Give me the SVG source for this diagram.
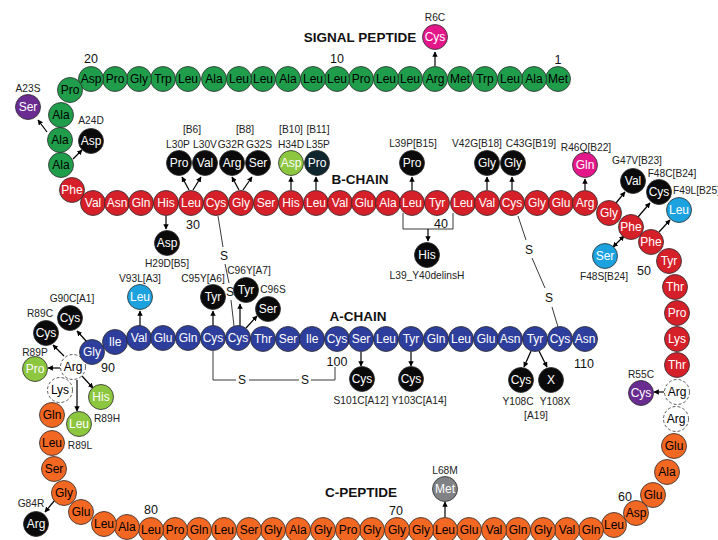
<svg xmlns="http://www.w3.org/2000/svg" width="718" height="540" viewBox="0 0 718 540">
<defs>
<marker id="ah" viewBox="0 0 10 10" refX="9" refY="5" markerWidth="4.5" markerHeight="4.5" orient="auto-start-reverse"><path d="M0,0 L10,5 L0,10 z" fill="#000"/></marker>
</defs>
<style>
circle{stroke:#2b2b2b;stroke-width:0.8}
text{font-family:"Liberation Sans",Arial,sans-serif}
.n text{font-size:12px;text-anchor:middle}
.sp circle{fill:#1f9d4b}.sp text{fill:#000}
.bc circle{fill:#d5202a}.bc text{fill:#fff}
.ac circle{fill:#2e3e9c}.ac text{fill:#fff}
.cp circle{fill:#f26722}.cp text{fill:#000}
.ds circle{fill:#fff;stroke:#333;stroke-dasharray:3 2}.ds text{fill:#000}
.mk circle{fill:#0a0a0a}.mk text{fill:#fff}
.dt circle{fill:#10262f}.dt text{fill:#fff}
.pk circle{fill:#e4178a}.pk text{fill:#fff}
.pu circle{fill:#6a2c91}.pu text{fill:#fff}
.lg circle{fill:#8dc63f}.lg text{fill:#fff}
.lb circle{fill:#1ca3df}.lb text{fill:#fff}
.gy circle{fill:#808285}.gy text{fill:#fff}
.n text.lbl{font-size:10.2px;text-anchor:middle;fill:#222}
.n text.lst{text-anchor:start}
.num{font-size:12.5px;text-anchor:middle;fill:#111}
.title{font-size:13.5px;font-weight:bold;text-anchor:middle;fill:#111}
.arr{stroke:#000;stroke-width:1.2;fill:none;marker-end:url(#ah)}
.arr2{stroke:#000;stroke-width:1.2;fill:none;marker-end:url(#ah);marker-start:url(#ah)}
.bond{stroke:#222;stroke-width:0.9;fill:none}
.s{font-size:12px;text-anchor:middle;fill:#111}
</style>

<g id="titles">
<text class="title" x="360" y="42">SIGNAL PEPTIDE</text>
<text class="title" x="360" y="184">B-CHAIN</text>
<text class="title" x="358" y="321">A-CHAIN</text>
<text class="title" x="361" y="497">C-PEPTIDE</text>
</g>

<g id="numbers">
<text class="num" x="558" y="64">1</text>
<text class="num" x="337" y="63">10</text>
<text class="num" x="91" y="63">20</text>
<text class="num" x="193" y="229">30</text>
<text class="num" x="441" y="228">40</text>
<text class="num" x="644" y="275">50</text>
<text class="num" x="625" y="501">60</text>
<text class="num" x="396" y="515">70</text>
<text class="num" x="151" y="514">80</text>
<text class="num" x="108" y="372">90</text>
<text class="num" x="337" y="366">100</text>
<text class="num" x="584" y="368">110</text>
</g>

<g id="connectors">
<line class="bond" x1="218" y1="216" x2="223" y2="247"/>
<line class="bond" x1="225" y1="264" x2="229" y2="283"/>
<line class="bond" x1="231" y1="300" x2="234" y2="326"/>
<text class="s" x="224" y="260">S</text>
<text class="s" x="230" y="296">S</text>
<line class="bond" x1="518" y1="216" x2="526" y2="240"/>
<line class="bond" x1="532" y1="258" x2="545" y2="288"/>
<line class="bond" x1="552" y1="307" x2="558" y2="327"/>
<text class="s" x="529" y="254">S</text>
<text class="s" x="549" y="302">S</text>
<polyline class="bond" points="213,351 213,380 236,380"/>
<line class="bond" x1="249" y1="380" x2="299" y2="380"/>
<polyline class="bond" points="311,380 335,380 335,367"/>
<text class="s" x="242" y="384">S</text>
<text class="s" x="305" y="384">S</text>
<polyline class="bond" points="403,213 403,229 453,229 453,213"/>
<line class="arr" x1="428" y1="229" x2="428" y2="241"/>
<line class="arr" x1="435" y1="66" x2="435" y2="52"/>
<line class="arr" x1="47" y1="132" x2="38" y2="120"/>
<line class="arr" x1="73" y1="159" x2="82" y2="150"/>
<line class="arr" x1="189" y1="190" x2="182" y2="177"/>
<line class="arr" x1="193" y1="190" x2="201" y2="177"/>
<line class="arr" x1="239" y1="190" x2="232" y2="177"/>
<line class="arr" x1="243" y1="190" x2="252" y2="177"/>
<line class="arr" x1="291" y1="190" x2="291" y2="177"/>
<line class="arr" x1="316" y1="190" x2="316" y2="177"/>
<line class="arr" x1="412" y1="190" x2="412" y2="177"/>
<line class="arr" x1="487" y1="190" x2="487" y2="177"/>
<line class="arr" x1="512" y1="190" x2="512" y2="177"/>
<line class="arr" x1="585" y1="190" x2="585" y2="179"/>
<line class="arr" x1="616" y1="203" x2="625" y2="192"/>
<line class="arr" x1="638" y1="217" x2="650" y2="203"/>
<line class="arr" x1="659" y1="232" x2="670" y2="220"/>
<line class="arr2" x1="624" y1="236" x2="613" y2="247"/>
<line class="arr" x1="166" y1="216" x2="166" y2="229"/>
<line class="arr" x1="140" y1="326" x2="140" y2="311"/>
<line class="arr" x1="213" y1="326" x2="213" y2="311"/>
<line class="arr" x1="240" y1="326" x2="240" y2="304"/>
<line class="arr" x1="246" y1="328" x2="257" y2="316"/>
<line class="arr" x1="87" y1="342" x2="77" y2="331"/>
<line class="arr" x1="64" y1="356" x2="53" y2="345"/>
<line class="arr" x1="60" y1="368" x2="48" y2="368"/>
<line class="arr" x1="82" y1="376" x2="93" y2="388"/>
<line class="arr" x1="77" y1="380" x2="77" y2="411"/>
<line class="arr" x1="55" y1="500" x2="45" y2="512"/>
<line class="arr" x1="664" y1="392" x2="654" y2="392"/>
<line class="arr" x1="445" y1="517" x2="445" y2="502"/>
<line class="arr" x1="361" y1="352" x2="361" y2="366"/>
<line class="arr" x1="411" y1="352" x2="411" y2="366"/>
<line class="arr" x1="531" y1="351" x2="524" y2="367"/>
<line class="arr" x1="539" y1="351" x2="547" y2="367"/>
</g>

<g id="signal-peptide" class="n sp">
<g id="r1"><circle cx="558" cy="79" r="12.5"/><text x="558" y="83.2">Met</text></g>
<g id="r2"><circle cx="534" cy="79" r="12.5"/><text x="534" y="83.2">Ala</text></g>
<g id="r3"><circle cx="510" cy="79" r="12.5"/><text x="510" y="83.2">Leu</text></g>
<g id="r4"><circle cx="485" cy="79" r="12.5"/><text x="485" y="83.2">Trp</text></g>
<g id="r5"><circle cx="460" cy="79" r="12.5"/><text x="460" y="83.2">Met</text></g>
<g id="r6"><circle cx="435" cy="79" r="12.5"/><text x="435" y="83.2">Arg</text></g>
<g id="r7"><circle cx="410" cy="79" r="12.5"/><text x="410" y="83.2">Leu</text></g>
<g id="r8"><circle cx="386" cy="79" r="12.5"/><text x="386" y="83.2">Leu</text></g>
<g id="r9"><circle cx="361" cy="79" r="12.5"/><text x="361" y="83.2">Pro</text></g>
<g id="r10"><circle cx="337" cy="79" r="12.5"/><text x="337" y="83.2">Leu</text></g>
<g id="r11"><circle cx="313" cy="79" r="12.5"/><text x="313" y="83.2">Leu</text></g>
<g id="r12"><circle cx="288" cy="79" r="12.5"/><text x="288" y="83.2">Ala</text></g>
<g id="r13"><circle cx="263" cy="79" r="12.5"/><text x="263" y="83.2">Leu</text></g>
<g id="r14"><circle cx="239" cy="79" r="12.5"/><text x="239" y="83.2">Leu</text></g>
<g id="r15"><circle cx="214" cy="79" r="12.5"/><text x="214" y="83.2">Ala</text></g>
<g id="r16"><circle cx="188" cy="79" r="12.5"/><text x="188" y="83.2">Leu</text></g>
<g id="r17"><circle cx="163" cy="79" r="12.5"/><text x="163" y="83.2">Trp</text></g>
<g id="r18"><circle cx="139" cy="79" r="12.5"/><text x="139" y="83.2">Gly</text></g>
<g id="r19"><circle cx="115" cy="79" r="12.5"/><text x="115" y="83.2">Pro</text></g>
<g id="r20"><circle cx="91" cy="79" r="12.5"/><text x="91" y="83.2">Asp</text></g>
<g id="r21"><circle cx="70" cy="90" r="12.5"/><text x="70" y="94.2">Pro</text></g>
<g id="r22"><circle cx="61" cy="115" r="12.5"/><text x="61" y="119.2">Ala</text></g>
<g id="r23"><circle cx="60" cy="140" r="12.5"/><text x="60" y="144.2">Ala</text></g>
<g id="r24"><circle cx="61" cy="165" r="12.5"/><text x="61" y="169.2">Ala</text></g>
</g>

<g id="b-chain" class="n bc">
<g id="r25"><circle cx="72" cy="190" r="12.5"/><text x="72" y="194.2">Phe</text></g>
<g id="r26"><circle cx="93" cy="203" r="12.5"/><text x="93" y="207.2">Val</text></g>
<g id="r27"><circle cx="117" cy="203" r="12.5"/><text x="117" y="207.2">Asn</text></g>
<g id="r28"><circle cx="141" cy="203" r="12.5"/><text x="141" y="207.2">Gln</text></g>
<g id="r29"><circle cx="166" cy="203" r="12.5"/><text x="166" y="207.2">His</text></g>
<g id="r30"><circle cx="191" cy="203" r="12.5"/><text x="191" y="207.2">Leu</text></g>
<g id="r31"><circle cx="216" cy="203" r="12.5"/><text x="216" y="207.2">Cys</text></g>
<g id="r32"><circle cx="241" cy="203" r="12.5"/><text x="241" y="207.2">Gly</text></g>
<g id="r33"><circle cx="266" cy="203" r="12.5"/><text x="266" y="207.2">Ser</text></g>
<g id="r34"><circle cx="291" cy="203" r="12.5"/><text x="291" y="207.2">His</text></g>
<g id="r35"><circle cx="316" cy="203" r="12.5"/><text x="316" y="207.2">Leu</text></g>
<g id="r36"><circle cx="340" cy="203" r="12.5"/><text x="340" y="207.2">Val</text></g>
<g id="r37"><circle cx="364" cy="203" r="12.5"/><text x="364" y="207.2">Glu</text></g>
<g id="r38"><circle cx="388" cy="203" r="12.5"/><text x="388" y="207.2">Ala</text></g>
<g id="r39"><circle cx="412" cy="203" r="12.5"/><text x="412" y="207.2">Leu</text></g>
<g id="r40"><circle cx="437" cy="203" r="12.5"/><text x="437" y="207.2">Tyr</text></g>
<g id="r41"><circle cx="463" cy="203" r="12.5"/><text x="463" y="207.2">Leu</text></g>
<g id="r42"><circle cx="487" cy="203" r="12.5"/><text x="487" y="207.2">Val</text></g>
<g id="r43"><circle cx="512" cy="203" r="12.5"/><text x="512" y="207.2">Cys</text></g>
<g id="r44"><circle cx="537" cy="203" r="12.5"/><text x="537" y="207.2">Gly</text></g>
<g id="r45"><circle cx="561" cy="203" r="12.5"/><text x="561" y="207.2">Glu</text></g>
<g id="r46"><circle cx="585" cy="203" r="12.5"/><text x="585" y="207.2">Arg</text></g>
<g id="r47"><circle cx="609" cy="213" r="12.5"/><text x="609" y="217.2">Gly</text></g>
<g id="r48"><circle cx="631" cy="227" r="12.5"/><text x="631" y="231.2">Phe</text></g>
<g id="r49"><circle cx="651" cy="242" r="12.5"/><text x="651" y="246.2">Phe</text></g>
<g id="r50"><circle cx="669" cy="261" r="12.5"/><text x="669" y="265.2">Tyr</text></g>
<g id="r51"><circle cx="675" cy="287" r="12.5"/><text x="675" y="291.2">Thr</text></g>
<g id="r52"><circle cx="677" cy="313" r="12.5"/><text x="677" y="317.2">Pro</text></g>
<g id="r53"><circle cx="677" cy="339" r="12.5"/><text x="677" y="343.2">Lys</text></g>
<g id="r54"><circle cx="677" cy="365" r="12.5"/><text x="677" y="369.2">Thr</text></g>
</g>

<g id="c-peptide" class="n cp">
<g id="r55" class="ds"><circle cx="677" cy="392" r="12.5"/><text x="677" y="396.2">Arg</text></g>
<g id="r56" class="ds"><circle cx="676" cy="419" r="12.5"/><text x="676" y="423.2">Arg</text></g>
<g id="r57"><circle cx="674" cy="446" r="12.5"/><text x="674" y="450.2">Glu</text></g>
<g id="r58"><circle cx="667" cy="472" r="12.5"/><text x="667" y="476.2">Ala</text></g>
<g id="r59"><circle cx="653" cy="495" r="12.5"/><text x="653" y="499.2">Glu</text></g>
<g id="r60"><circle cx="636" cy="513" r="12.5"/><text x="636" y="517.2">Asp</text></g>
<g id="r61"><circle cx="614" cy="525" r="12.5"/><text x="614" y="529.2">Leu</text></g>
<g id="r62"><circle cx="591" cy="530" r="12.5"/><text x="591" y="534.2">Gln</text></g>
<g id="r63"><circle cx="567" cy="530" r="12.5"/><text x="567" y="534.2">Val</text></g>
<g id="r64"><circle cx="543" cy="530" r="12.5"/><text x="543" y="534.2">Gly</text></g>
<g id="r65"><circle cx="518" cy="530" r="12.5"/><text x="518" y="534.2">Gln</text></g>
<g id="r66"><circle cx="494" cy="530" r="12.5"/><text x="494" y="534.2">Val</text></g>
<g id="r67"><circle cx="469" cy="530" r="12.5"/><text x="469" y="534.2">Glu</text></g>
<g id="r68"><circle cx="445" cy="530" r="12.5"/><text x="445" y="534.2">Leu</text></g>
<g id="r69"><circle cx="421" cy="530" r="12.5"/><text x="421" y="534.2">Gly</text></g>
<g id="r70"><circle cx="397" cy="530" r="12.5"/><text x="397" y="534.2">Gly</text></g>
<g id="r71"><circle cx="372" cy="530" r="12.5"/><text x="372" y="534.2">Gly</text></g>
<g id="r72"><circle cx="348" cy="530" r="12.5"/><text x="348" y="534.2">Pro</text></g>
<g id="r73"><circle cx="323" cy="530" r="12.5"/><text x="323" y="534.2">Gly</text></g>
<g id="r74"><circle cx="298" cy="530" r="12.5"/><text x="298" y="534.2">Ala</text></g>
<g id="r75"><circle cx="273" cy="530" r="12.5"/><text x="273" y="534.2">Gly</text></g>
<g id="r76"><circle cx="249" cy="530" r="12.5"/><text x="249" y="534.2">Ser</text></g>
<g id="r77"><circle cx="224" cy="530" r="12.5"/><text x="224" y="534.2">Leu</text></g>
<g id="r78"><circle cx="199" cy="530" r="12.5"/><text x="199" y="534.2">Gln</text></g>
<g id="r79"><circle cx="175" cy="530" r="12.5"/><text x="175" y="534.2">Pro</text></g>
<g id="r80"><circle cx="151" cy="530" r="12.5"/><text x="151" y="534.2">Leu</text></g>
<g id="r81"><circle cx="127" cy="527" r="12.5"/><text x="127" y="531.2">Ala</text></g>
<g id="r82"><circle cx="104" cy="524" r="12.5"/><text x="104" y="528.2">Leu</text></g>
<g id="r83"><circle cx="81" cy="512" r="12.5"/><text x="81" y="516.2">Glu</text></g>
<g id="r84"><circle cx="64" cy="493" r="12.5"/><text x="64" y="497.2">Gly</text></g>
<g id="r85"><circle cx="54" cy="469" r="12.5"/><text x="54" y="473.2">Ser</text></g>
<g id="r86"><circle cx="52" cy="443" r="12.5"/><text x="52" y="447.2">Leu</text></g>
<g id="r87"><circle cx="52" cy="415" r="12.5"/><text x="52" y="419.2">Gln</text></g>
<g id="r88" class="ds"><circle cx="60" cy="390" r="12.5"/><text x="60" y="394.2">Lys</text></g>
<g id="r89" class="ds"><circle cx="73" cy="367" r="12.5"/><text x="73" y="371.2">Arg</text></g>
</g>

<g id="a-chain" class="n ac">
<g id="r90"><circle cx="92" cy="352" r="12.5"/><text x="92" y="356.2">Gly</text></g>
<g id="r91"><circle cx="115" cy="342" r="12.5"/><text x="115" y="346.2">Ile</text></g>
<g id="r92"><circle cx="139" cy="338" r="12.5"/><text x="139" y="342.2">Val</text></g>
<g id="r93"><circle cx="163" cy="338" r="12.5"/><text x="163" y="342.2">Glu</text></g>
<g id="r94"><circle cx="188" cy="338" r="12.5"/><text x="188" y="342.2">Gln</text></g>
<g id="r95"><circle cx="213" cy="338" r="12.5"/><text x="213" y="342.2">Cys</text></g>
<g id="r96"><circle cx="238" cy="338" r="12.5"/><text x="238" y="342.2">Cys</text></g>
<g id="r97"><circle cx="263" cy="339" r="12.5"/><text x="263" y="343.2">Thr</text></g>
<g id="r98"><circle cx="288" cy="339" r="12.5"/><text x="288" y="343.2">Ser</text></g>
<g id="r99"><circle cx="312" cy="339" r="12.5"/><text x="312" y="343.2">Ile</text></g>
<g id="r100"><circle cx="337" cy="339" r="12.5"/><text x="337" y="343.2">Cys</text></g>
<g id="r101"><circle cx="361" cy="339" r="12.5"/><text x="361" y="343.2">Ser</text></g>
<g id="r102"><circle cx="386" cy="339" r="12.5"/><text x="386" y="343.2">Leu</text></g>
<g id="r103"><circle cx="411" cy="339" r="12.5"/><text x="411" y="343.2">Tyr</text></g>
<g id="r104"><circle cx="436" cy="339" r="12.5"/><text x="436" y="343.2">Gln</text></g>
<g id="r105"><circle cx="461" cy="339" r="12.5"/><text x="461" y="343.2">Leu</text></g>
<g id="r106"><circle cx="486" cy="339" r="12.5"/><text x="486" y="343.2">Glu</text></g>
<g id="r107"><circle cx="510" cy="339" r="12.5"/><text x="510" y="343.2">Asn</text></g>
<g id="r108"><circle cx="535" cy="339" r="12.5"/><text x="535" y="343.2">Tyr</text></g>
<g id="r109"><circle cx="560" cy="339" r="12.5"/><text x="560" y="343.2">Cys</text></g>
<g id="r110"><circle cx="585" cy="339" r="12.5"/><text x="585" y="343.2">Asn</text></g>
</g>

<g id="mutations" class="n">
<g id="m-R6C" class="pk"><circle cx="435" cy="37" r="12.5"/><text x="435" y="41.2">Cys</text><text class="lbl" x="435" y="21">R6C</text></g>
<g id="m-A23S" class="pu"><circle cx="28" cy="107" r="12.5"/><text x="28" y="111.2">Ser</text><text class="lbl" x="28" y="92">A23S</text></g>
<g id="m-A24D" class="mk"><circle cx="91" cy="141" r="12.5"/><text x="91" y="145.2">Asp</text><text class="lbl" x="91" y="124">A24D</text></g>
<g id="m-L30P" class="mk"><circle cx="179" cy="163" r="12.5"/><text x="179" y="167.2">Pro</text><text class="lbl" x="178" y="148">L30P</text><text class="lbl" x="192" y="133">[B6]</text></g>
<g id="m-L30V" class="mk"><circle cx="205" cy="163" r="12.5"/><text x="205" y="167.2">Val</text><text class="lbl" x="205" y="148">L30V</text></g>
<g id="m-G32R" class="mk"><circle cx="232" cy="163" r="12.5"/><text x="232" y="167.2">Arg</text><text class="lbl" x="231" y="148">G32R</text><text class="lbl" x="245" y="133">[B8]</text></g>
<g id="m-G32S" class="mk"><circle cx="258" cy="163" r="12.5"/><text x="258" y="167.2">Ser</text><text class="lbl" x="259" y="148">G32S</text></g>
<g id="m-H34D" class="lg"><circle cx="291" cy="163" r="12.5"/><text x="291" y="167.2">Asp</text><text class="lbl" x="291" y="148">H34D</text><text class="lbl" x="291" y="133">[B10]</text></g>
<g id="m-L35P" class="dt"><circle cx="317" cy="163" r="12.5"/><text x="317" y="167.2">Pro</text><text class="lbl" x="318" y="148">L35P</text><text class="lbl" x="318" y="133">[B11]</text></g>
<g id="m-L39P" class="mk"><circle cx="412" cy="163" r="12.5"/><text x="412" y="167.2">Pro</text><text class="lbl" x="413" y="147">L39P[B15]</text></g>
<g id="m-V42G" class="mk"><circle cx="487" cy="163" r="12.5"/><text x="487" y="167.2">Gly</text><text class="lbl" x="477" y="147">V42G[B18]</text></g>
<g id="m-C43G" class="mk"><circle cx="513" cy="163" r="12.5"/><text x="513" y="167.2">Gly</text><text class="lbl" x="531" y="147">C43G[B19]</text></g>
<g id="m-R46Q" class="pk"><circle cx="585" cy="165" r="12.5"/><text x="585" y="169.2">Gln</text><text class="lbl" x="586" y="151">R46Q[B22]</text></g>
<g id="m-G47V" class="mk"><circle cx="633" cy="181" r="12.5"/><text x="633" y="185.2">Val</text><text class="lbl" x="637" y="164">G47V[B23]</text></g>
<g id="m-F48C" class="mk"><circle cx="659" cy="192" r="12.5"/><text x="659" y="196.2">Cys</text><text class="lbl" x="672" y="177">F48C[B24]</text></g>
<g id="m-F49L" class="lb"><circle cx="679" cy="210" r="12.5"/><text x="679" y="214.2">Leu</text><text class="lbl lst" x="673" y="194">F49L[B25]</text></g>
<g id="m-F48S" class="lb"><circle cx="605" cy="256" r="12.5"/><text x="605" y="260.2">Ser</text><text class="lbl" x="604" y="280">F48S[B24]</text></g>
<g id="m-H29D" class="mk"><circle cx="167" cy="243" r="12.5"/><text x="167" y="247.2">Asp</text><text class="lbl" x="167" y="267">H29D[B5]</text></g>
<g id="m-L39_Y40delinsH" class="mk"><circle cx="427" cy="255" r="12.5"/><text x="427" y="259.2">His</text><text class="lbl" x="427" y="279">L39_Y40delinsH</text></g>
<g id="m-V93L" class="lb"><circle cx="140" cy="297" r="12.5"/><text x="140" y="301.2">Leu</text><text class="lbl" x="140" y="282">V93L[A3]</text></g>
<g id="m-C95Y" class="mk"><circle cx="213" cy="297" r="12.5"/><text x="213" y="301.2">Tyr</text><text class="lbl" x="203" y="282">C95Y[A6]</text></g>
<g id="m-C96Y" class="mk"><circle cx="246" cy="290" r="12.5"/><text x="246" y="294.2">Tyr</text><text class="lbl" x="249" y="274">C96Y[A7]</text></g>
<g id="m-C96S" class="mk"><circle cx="268" cy="309" r="12.5"/><text x="268" y="313.2">Ser</text><text class="lbl" x="273" y="293">C96S</text></g>
<g id="m-G90C" class="mk"><circle cx="70" cy="318" r="12.5"/><text x="70" y="322.2">Cys</text><text class="lbl" x="72" y="302">G90C[A1]</text></g>
<g id="m-R89C" class="mk"><circle cx="46" cy="333" r="12.5"/><text x="46" y="337.2">Cys</text><text class="lbl" x="40" y="317">R89C</text></g>
<g id="m-R89P" class="lg"><circle cx="35" cy="369" r="12.5"/><text x="35" y="373.2">Pro</text><text class="lbl" x="35" y="356">R89P</text></g>
<g id="m-R89H" class="lg"><circle cx="101" cy="397" r="12.5"/><text x="101" y="401.2">His</text><text class="lbl" x="107" y="422">R89H</text></g>
<g id="m-R89L" class="lg"><circle cx="79" cy="424" r="12.5"/><text x="79" y="428.2">Leu</text><text class="lbl" x="80" y="449">R89L</text></g>
<g id="m-G84R" class="mk"><circle cx="36" cy="524" r="12.5"/><text x="36" y="528.2">Arg</text><text class="lbl" x="31" y="507">G84R</text></g>
<g id="m-R55C" class="pu"><circle cx="641" cy="393" r="12.5"/><text x="641" y="397.2">Cys</text><text class="lbl" x="641" y="378">R55C</text></g>
<g id="m-L68M" class="gy"><circle cx="445" cy="489" r="12.5"/><text x="445" y="493.2">Met</text><text class="lbl" x="445" y="474">L68M</text></g>
<g id="m-S101C" class="mk"><circle cx="362" cy="379" r="12.5"/><text x="362" y="383.2">Cys</text><text class="lbl" x="361" y="404">S101C[A12]</text></g>
<g id="m-Y103C" class="mk"><circle cx="411" cy="379" r="12.5"/><text x="411" y="383.2">Cys</text><text class="lbl" x="419" y="404">Y103C[A14]</text></g>
<g id="m-Y108C" class="mk"><circle cx="521" cy="380" r="12.5"/><text x="521" y="384.2">Cys</text><text class="lbl" x="518" y="405">Y108C</text><text class="lbl" x="536" y="419">[A19]</text></g>
<g id="m-Y108X" class="mk"><circle cx="551" cy="380" r="12.5"/><text x="551" y="384.2">X</text><text class="lbl" x="555" y="405">Y108X</text></g>
</g>
</svg>
